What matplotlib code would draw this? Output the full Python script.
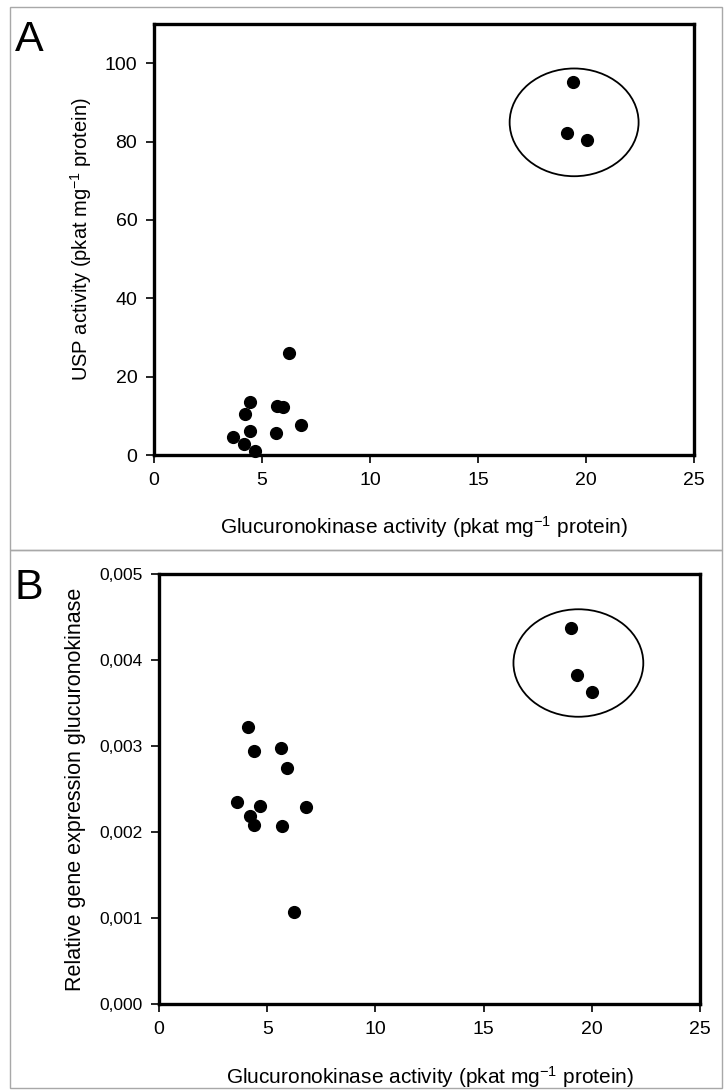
import matplotlib
matplotlib.use("Agg")
import matplotlib.pyplot as plt
from matplotlib.patches import Ellipse, Rectangle
from matplotlib.ticker import FuncFormatter

plt.rcParams['font.family'] = ['Liberation Sans', 'DejaVu Sans']
plt.rcParams['mathtext.fontset'] = 'custom'
plt.rcParams['mathtext.rm'] = 'Liberation Sans'
plt.rcParams['mathtext.it'] = 'Liberation Sans'

# Panel A data: glucuronokinase activity vs USP activity
gk_a = [6.26, 4.44, 4.23, 5.68, 5.96, 6.82, 4.44, 5.65, 3.64, 4.15, 4.69, 19.38, 19.11, 20.03]
usp_a = [26.0, 13.6, 10.4, 12.5, 12.2, 7.6, 6.1, 5.5, 4.5, 2.8, 1.1, 95.1, 82.3, 80.4]

# Panel B data: glucuronokinase activity vs relative gene expression
gk_b = [4.11, 4.39, 5.63, 5.91, 3.60, 4.68, 6.80, 4.22, 4.40, 5.70, 6.24, 19.05, 19.32, 19.99]
expr_b = [0.00322, 0.00294, 0.00298, 0.00275, 0.00235, 0.00230, 0.00229, 0.00219,
          0.00208, 0.00207, 0.00107, 0.00437, 0.00383, 0.00363]

# Ellipses around high-activity group (center x, center y, width, height)
ell_a = (19.45, 84.9, 5.97, 27.5)
ell_b = (19.38, 0.003965, 6.0, 0.00125)

xticks = [0, 5, 10, 15, 20, 25]
yticks_a = [0, 20, 40, 60, 80, 100]
yticks_b = [0.000, 0.001, 0.002, 0.003, 0.004, 0.005]

xlabel = 'Glucuronokinase activity (pkat mg$^{-1}$ protein)'

W, H = 726, 1091
fig = plt.figure(figsize=(W / 100, H / 100), dpi=100)

# gray panel frames
for (x0, y0, x1, y1) in [(10, 7, 722, 550), (10, 550, 722, 1088)]:
    fig.patches.append(Rectangle((x0 / W, 1 - y1 / H), (x1 - x0) / W, (y1 - y0) / H,
                                 transform=fig.transFigure, fill=False,
                                 edgecolor='#a8a8a8', lw=1.0))

def fpos(l, t, r, b):
    return [l / W, 1 - b / H, (r - l) / W, (b - t) / H]

axA = fig.add_axes(fpos(154, 24, 694, 455))
axB = fig.add_axes(fpos(159, 574, 700, 1004))

for ax in (axA, axB):
    for s in ax.spines.values():
        s.set_linewidth(2.4)
        s.set_color('black')
    ax.tick_params(axis='both', direction='out', length=6, width=1.2,
                   top=False, right=False, color='black')
    ax.set_xlim(0, 25)
    ax.set_xticks(xticks)

axA.scatter(gk_a, usp_a, s=72, color='black', zorder=3, clip_on=False)
axA.set_ylim(0, 110)
axA.set_yticks(yticks_a)
axA.tick_params(labelsize=14, pad=6)
axA.set_ylabel('USP activity (pkat mg$^{-1}$ protein)', fontsize=14.5, labelpad=8)
axA.set_xlabel(xlabel, fontsize=15, labelpad=18)
axA.add_patch(Ellipse((ell_a[0], ell_a[1]), ell_a[2], ell_a[3], fill=False,
                      edgecolor='black', lw=1.3))

axB.scatter(gk_b, expr_b, s=72, color='black', zorder=3, clip_on=False)
axB.set_ylim(0, 0.005)
axB.set_yticks(yticks_b)
axB.yaxis.set_major_formatter(FuncFormatter(lambda v, p: f'{v:.3f}'.replace('.', ',')))
axB.tick_params(axis='y', labelsize=12.5, pad=6)
axB.tick_params(axis='x', labelsize=14, pad=6)
axB.set_ylabel('Relative gene expression glucuronokinase', fontsize=15.5, labelpad=9)
axB.set_xlabel(xlabel, fontsize=15, labelpad=19)
axB.add_patch(Ellipse((ell_b[0], ell_b[1]), ell_b[2], ell_b[3], fill=False,
                      edgecolor='black', lw=1.3))

fig.text(15 / W, 1 - 40 / H, 'A', fontsize=31, va='center', ha='left')
fig.text(15 / W, 1 - 588 / H, 'B', fontsize=31, va='center', ha='left')

fig.savefig('out.png', dpi=100, facecolor='white')
